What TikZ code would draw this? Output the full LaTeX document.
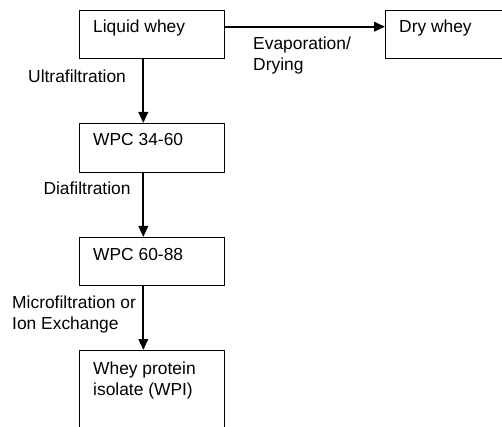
\documentclass[tikz,border=0pt]{standalone}
\usepackage{fontspec}
\setmainfont{Liberation Sans}
\usetikzlibrary{arrows.meta}
\begin{document}
\begin{tikzpicture}[x=1pt,y=-1pt,
  box/.style={draw=black, line width=0.8pt, anchor=north west, inner sep=0pt, minimum width=145pt},
  txt/.style={anchor=base west, inner sep=0pt, align=left, font=\fontsize{17.4}{21}\selectfont},
  flow/.style={line width=2pt, -{Triangle[length=11pt,width=9.5pt]}}]
\useasboundingbox (0,0) rectangle (502,427);
\clip (0,0) rectangle (502,427);
% boxes
\node[box, minimum height=48pt] (b1) at (79,10) {};
\node[box, minimum height=48pt] (b2) at (385,10) {};
\node[box, minimum height=49pt] (b3) at (79,123) {};
\node[box, minimum height=48pt] (b4) at (79,237) {};
\node[box, minimum height=90pt] (b5) at (79,350) {};
% box texts
\node[txt] (t1) at ([shift={(14,23)}]b1.north west) {Liquid whey};
\node[txt] (t2) at ([shift={(14,23)}]b2.north west) {Dry whey};
\node[txt] (t3) at ([shift={(14,23)}]b3.north west) {WPC 34-60};
\node[txt] (t4) at ([shift={(14,23)}]b4.north west) {WPC 60-88};
\node[txt] (t5) at ([shift={(14,45)}]b5.north west) {Whey protein\\isolate (WPI)};
% arrows
\coordinate (h1) at (b1.east |- 0,26.7);
\draw[flow] (h1) -- (h1 -| b2.west);
\coordinate (v) at (143.3,0);
\draw[flow] (v |- b1.south) -- (v |- b3.north);
\draw[flow] (v |- b3.south) -- (v |- b4.north);
\draw[flow] (v |- b4.south) -- (v |- b5.north);
% labels
\node[txt] (l1) at (253,70.3) {Evaporation/\\Drying};
\node[txt] (l2) at (28,82.3) {Ultrafiltration};
\node[txt] (l3) at (43.3,195) {Diafiltration};
\node[txt] (l4) at (12,329) {Microfiltration or\\Ion Exchange};
\end{tikzpicture}
\end{document}
